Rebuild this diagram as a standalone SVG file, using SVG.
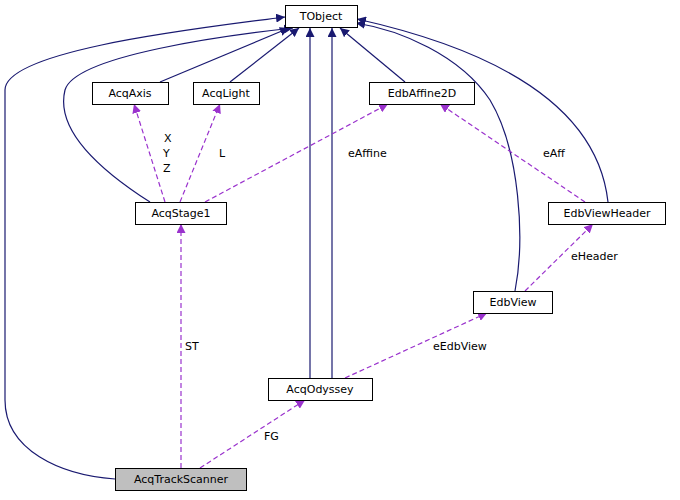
<svg xmlns="http://www.w3.org/2000/svg" width="680" height="500" viewBox="0 0 680 500">
<style>
.n rect{fill:#fff;stroke:#000;stroke-width:1}
text{font-family:"DejaVu Sans",sans-serif;font-size:11px;fill:#000}
.n text{text-anchor:middle}
.s{fill:none;stroke:#191970;stroke-width:1.2}
.d{fill:none;stroke:#9a32cd;stroke-width:1.2;stroke-dasharray:5,3}
</style>
<defs>
<marker id="a" viewBox="0 0 10 10" refX="10" refY="5" markerWidth="9" markerHeight="9" orient="auto-start-reverse" markerUnits="userSpaceOnUse"><path d="M0,0L10,5L0,10z" fill="#191970"/></marker>
<marker id="p" viewBox="0 0 10 10" refX="10" refY="5" markerWidth="9" markerHeight="9" orient="auto-start-reverse" markerUnits="userSpaceOnUse"><path d="M0,0L10,5L0,10z" fill="#9a32cd"/></marker>
</defs>
<g id="edges">
<path class="s" marker-end="url(#a)" d="M115,479 C60,475 5,450 5,400 L5,90 C5,50 200,28 285,17"/>
<path class="s" marker-end="url(#a)" d="M160,82 L289,28"/>
<path class="s" marker-end="url(#a)" d="M230,82 L299,28"/>
<path class="s" marker-end="url(#a)" d="M150,202 C100,170 55,130 65,90 C75,55 230,35 293,28"/>
<path class="s" marker-end="url(#a)" d="M310,378 L310,28"/>
<path class="s" marker-end="url(#a)" d="M332,378 L332,28"/>
<path class="s" marker-end="url(#a)" d="M405,82 L340,28"/>
<path class="s" marker-end="url(#a)" d="M515,291 C525,240 520,150 490,100 C460,55 400,30 356,23"/>
<path class="s" marker-end="url(#a)" d="M608,202 C600,130 540,60 357,19"/>
<path class="d" marker-end="url(#p)" d="M165,202 L134,104"/>
<path class="d" marker-end="url(#p)" d="M180,202 L220,104"/>
<path class="d" marker-end="url(#p)" d="M205,202 L388,104"/>
<path class="d" marker-end="url(#p)" d="M585,202 L440,104"/>
<path class="d" marker-end="url(#p)" d="M525,291 L593,224"/>
<path class="d" marker-end="url(#p)" d="M345,378 L487,313"/>
<path class="d" marker-end="url(#p)" d="M181,468 L181,224"/>
<path class="d" marker-end="url(#p)" d="M200,468 L305,400"/>
<text x="164" y="142">X</text><text x="163" y="157">Y</text><text x="163" y="172">Z</text>
<text x="219" y="157">L</text>
<text x="348" y="157">eAffine</text>
<text x="543" y="157">eAff</text>
<text x="571" y="260">eHeader</text>
<text x="433" y="350">eEdbView</text>
<text x="185" y="350">ST</text>
<text x="264" y="440">FG</text>
</g>
<g id="TObject" class="n"><rect x="285.5" y="5.5" width="72" height="22"/><text x="321" y="20">TObject</text></g>
<g id="AcqAxis" class="n"><rect x="92.5" y="82.5" width="76" height="22"/><text x="130" y="97">AcqAxis</text></g>
<g id="AcqLight" class="n"><rect x="193.5" y="82.5" width="66" height="22"/><text x="226" y="97">AcqLight</text></g>
<g id="EdbAffine2D" class="n"><rect x="369.5" y="82.5" width="105" height="22"/><text x="422" y="97">EdbAffine2D</text></g>
<g id="AcqStage1" class="n"><rect x="135.5" y="202.5" width="91" height="22"/><text x="181" y="217">AcqStage1</text></g>
<g id="EdbViewHeader" class="n"><rect x="548.5" y="202.5" width="117" height="22"/><text x="607" y="217">EdbViewHeader</text></g>
<g id="EdbView" class="n"><rect x="473.5" y="291.5" width="79" height="22"/><text x="513" y="306">EdbView</text></g>
<g id="AcqOdyssey" class="n"><rect x="268.5" y="378.5" width="104" height="22"/><text x="320" y="393">AcqOdyssey</text></g>
<g id="AcqTrackScanner" class="n"><rect x="115.5" y="468.5" width="131" height="22" style="fill:#bfbfbf"/><text x="181" y="483">AcqTrackScanner</text></g>
</svg>
